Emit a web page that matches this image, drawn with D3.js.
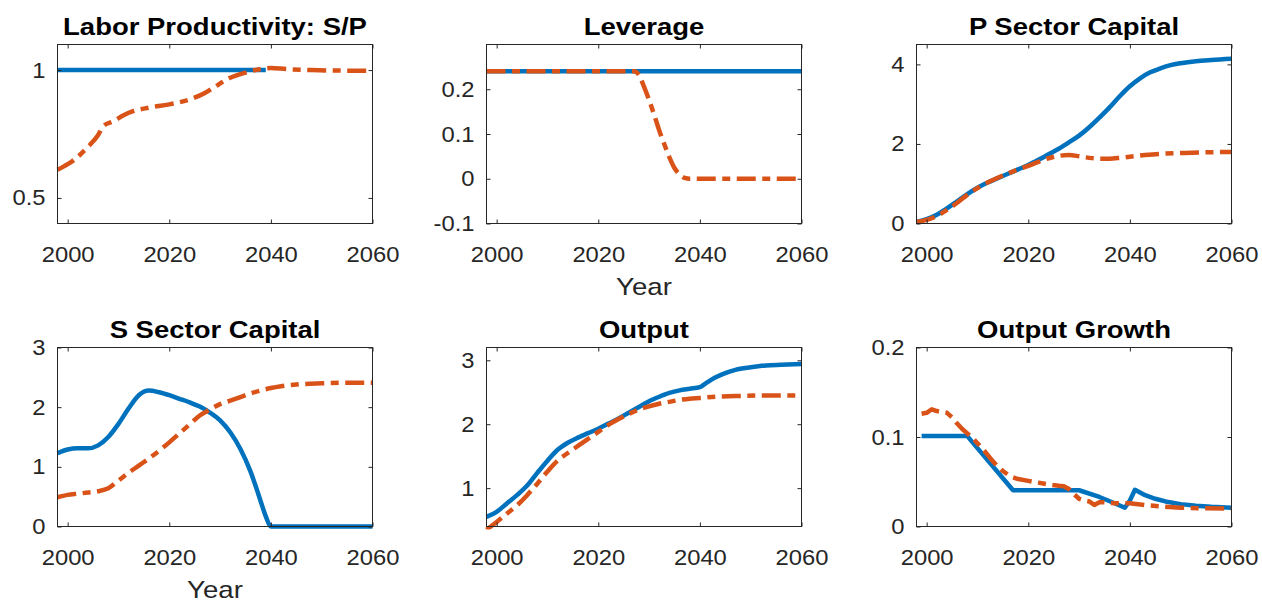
<!DOCTYPE html>
<html>
<head>
<meta charset="utf-8">
<script src="https://cdn.jsdelivr.net/npm/d3@7"></script>
<style>
  html, body { margin: 0; padding: 0; background: #ffffff; }
  svg { display: block; }
  text { font-family: "Liberation Sans", Arial, Helvetica, sans-serif; }
</style>
</head>
<body>
<svg id="fig" width="1262" height="603"></svg>
<script>
// ---- shared x axis (years) ----
const yearDomain = [1998, 2060];
const yearTicks = [2000, 2020, 2040, 2060];
const yearTickLabels = ["2000", "2020", "2040", "2060"];

// ---- panel titles ----
const panelTitles = [
  "Labor Productivity: S/P", "Leverage", "P Sector Capital",
  "S Sector Capital", "Output", "Output Growth"
];

// ---- y axes ----
const yDomains = [[0.4, 1.1], [-0.1, 0.3], [0, 4.5], [0, 3], [0.4, 3.2], [0, 0.2]];
const yTicks = [[0.5, 1], [-0.1, 0, 0.1, 0.2], [0, 2, 4], [0, 1, 2, 3], [1, 2, 3], [0, 0.1, 0.2]];
const yTickLabels = [["0.5", "1"], ["-0.1", "0", "0.1", "0.2"], ["0", "2", "4"], ["0", "1", "2", "3"], ["1", "2", "3"], ["0", "0.1", "0.2"]];

// ---- series: [year, value] ----
// Labor productivity, S relative to P
const laborBase = [[1998, 1], [2039, 1]];
const laborAlt = [[1998, 0.61], [2000, 0.632], [2001, 0.645], [2004, 0.70], [2006, 0.746], [2007, 0.78],
  [2009, 0.80], [2011, 0.823], [2013, 0.84], [2016, 0.853], [2020, 0.866], [2024, 0.885], [2027, 0.91],
  [2029, 0.935], [2032, 0.97], [2035, 0.99], [2037, 1.0], [2040, 1.008], [2043, 1.004], [2048, 1.0], [2060, 0.997]];

// Leverage
const leverageBase = [[1998, 0.24], [2060, 0.24]];
const leverageAlt = [[1998, 0.24], [2027, 0.24], [2028, 0.232], [2029, 0.206], [2030, 0.176], [2031, 0.143],
  [2032, 0.108], [2033, 0.077], [2034, 0.048], [2035, 0.024], [2036, 0.010], [2037, 0.002], [2038, 0], [2060, 0]];

// P sector capital
const pCapitalBase = [[1998, 0.04], [2000, 0.11], [2002, 0.22], [2004, 0.38], [2006, 0.56], [2008, 0.74],
  [2010, 0.90], [2012, 1.03], [2014, 1.14], [2016, 1.25], [2018, 1.36], [2020, 1.47], [2022, 1.60],
  [2024, 1.74], [2026, 1.88], [2028, 2.04], [2030, 2.21], [2032, 2.42], [2034, 2.66], [2036, 2.92],
  [2038, 3.20], [2040, 3.45], [2042, 3.65], [2044, 3.80], [2046, 3.90], [2048, 3.98], [2050, 4.03],
  [2053, 4.08], [2056, 4.11], [2060, 4.14]];
const pCapitalAlt = [[1998, 0.04], [2000, 0.09], [2002, 0.19], [2004, 0.34], [2006, 0.52], [2008, 0.72],
  [2010, 0.89], [2012, 1.03], [2014, 1.15], [2016, 1.26], [2018, 1.36], [2020, 1.45], [2022, 1.55],
  [2024, 1.64], [2026, 1.70], [2028, 1.72], [2030, 1.69], [2032, 1.65], [2034, 1.63], [2036, 1.63],
  [2038, 1.65], [2040, 1.68], [2043, 1.72], [2046, 1.75], [2050, 1.77], [2055, 1.79], [2060, 1.80]];

// S sector capital
const sCapitalBase = [[1998, 1.23], [2000, 1.29], [2002, 1.31], [2004, 1.31], [2006, 1.36], [2008, 1.50],
  [2010, 1.72], [2012, 1.98], [2014, 2.20], [2016, 2.28], [2018, 2.25], [2020, 2.20], [2022, 2.14],
  [2024, 2.08], [2026, 2.01], [2028, 1.91], [2030, 1.78], [2032, 1.58], [2034, 1.30], [2036, 0.92],
  [2037, 0.68], [2038, 0.42], [2039, 0.17], [2040, 0], [2060, 0]];
const sCapitalAlt = [[1998, 0.49], [2000, 0.53], [2002, 0.55], [2004, 0.57], [2006, 0.59], [2008, 0.64],
  [2010, 0.77], [2012, 0.90], [2014, 1.02], [2016, 1.14], [2018, 1.27], [2020, 1.41], [2022, 1.56],
  [2024, 1.71], [2026, 1.86], [2028, 1.96], [2030, 2.05], [2032, 2.11], [2034, 2.17], [2036, 2.23],
  [2038, 2.28], [2040, 2.32], [2042, 2.35], [2045, 2.38], [2050, 2.40], [2055, 2.41], [2060, 2.41]];

// Output
const outputBase = [[1998, 0.55], [2000, 0.63], [2002, 0.76], [2004, 0.89], [2006, 1.04], [2008, 1.24],
  [2010, 1.43], [2012, 1.60], [2014, 1.71], [2016, 1.79], [2018, 1.86], [2020, 1.93], [2022, 2.01],
  [2024, 2.09], [2026, 2.18], [2028, 2.27], [2030, 2.36], [2032, 2.43], [2034, 2.49], [2036, 2.53],
  [2038, 2.555], [2040, 2.58], [2041, 2.63], [2043, 2.73], [2045, 2.80], [2047, 2.85], [2050, 2.89],
  [2053, 2.92], [2056, 2.93], [2060, 2.94]];
const outputAlt = [[1998, 0.35], [2000, 0.47], [2002, 0.60], [2004, 0.73], [2006, 0.89], [2008, 1.07],
  [2010, 1.26], [2012, 1.43], [2014, 1.55], [2016, 1.66], [2018, 1.77], [2020, 1.88], [2022, 1.99],
  [2024, 2.08], [2026, 2.16], [2028, 2.23], [2030, 2.28], [2032, 2.32], [2034, 2.35], [2036, 2.38],
  [2038, 2.40], [2040, 2.41], [2043, 2.43], [2047, 2.44], [2052, 2.45], [2060, 2.45]];

// Output growth
const growthBase = [[1999, 0.101], [2008, 0.101], [2017, 0.0405], [2030, 0.0405], [2034, 0.033],
  [2037, 0.026], [2039, 0.021], [2040, 0.029], [2041, 0.041], [2042, 0.038], [2043, 0.035], [2045, 0.031],
  [2047, 0.028], [2050, 0.025], [2053, 0.0233], [2056, 0.022], [2060, 0.021]];
const growthAlt = [[1999, 0.126], [2000, 0.127], [2001, 0.131], [2002, 0.129], [2004, 0.127], [2005, 0.122],
  [2006, 0.115], [2007, 0.109], [2008, 0.104], [2009, 0.099], [2010, 0.093], [2011, 0.087], [2012, 0.080],
  [2013, 0.073], [2014, 0.067], [2015, 0.062], [2016, 0.058], [2017, 0.055], [2018, 0.053], [2020, 0.051],
  [2022, 0.049], [2024, 0.047], [2026, 0.0455], [2027, 0.045], [2028, 0.042], [2029, 0.036], [2030, 0.031],
  [2031, 0.029], [2032, 0.028], [2033, 0.024], [2034, 0.027], [2035, 0.027], [2037, 0.026], [2040, 0.026],
  [2043, 0.024], [2046, 0.0225], [2050, 0.021], [2055, 0.0203], [2060, 0.020]];

const baseSeries = [laborBase, leverageBase, pCapitalBase, sCapitalBase, outputBase, growthBase];
const altSeries = [laborAlt, leverageAlt, pCapitalAlt, sCapitalAlt, outputAlt, growthAlt];
const smoothPanels = [true, true, true, true, true, false];
const xLabelPanels = [1, 3];

// ---- layout ----
const colLeft = [57.5, 486.5, 916.5];
const rowTop = [44.5, 347.5];
const plotW = 315, plotH = 179;
const tickLen = 4;
const tickStretch = 1.08, titleStretch = 1.17, labelStretch = 1.15;

const blue = "#0072BD", orange = "#D95319", axisColor = "#262626";

const svg = d3.select("#fig");
const defs = svg.append("defs");

panelTitles.forEach((title, i) => {
  const left = colLeft[i % 3], top = rowTop[Math.floor(i / 3)];
  const x = d3.scaleLinear().domain(yearDomain).range([0, plotW]);
  const y = d3.scaleLinear().domain(yDomains[i]).range([plotH, 0]);
  const g = svg.append("g").attr("transform", `translate(${left},${top})`);

  const clipId = "plot-clip-" + i;
  defs.append("clipPath").attr("id", clipId)
    .append("rect").attr("x", -3).attr("y", -3).attr("width", plotW + 6).attr("height", plotH + 6);

  const line = d3.line()
    .x(d => x(d[0]))
    .y(d => y(d[1]))
    .curve(smoothPanels[i] ? d3.curveMonotoneX : d3.curveLinear);

  const lines = g.append("g").attr("clip-path", `url(#${clipId})`);
  lines.append("path").datum(baseSeries[i])
    .attr("d", line).attr("fill", "none")
    .attr("stroke", blue).attr("stroke-width", 4.5)
    .attr("stroke-linejoin", "round");
  lines.append("path").datum(altSeries[i])
    .attr("d", line).attr("fill", "none")
    .attr("stroke", orange).attr("stroke-width", 4.5)
    .attr("stroke-linejoin", "round")
    .attr("stroke-dasharray", "19,6.5,8,6.5");

  // axes: inward ticks on all four sides
  const fmtX = (d) => yearTickLabels[yearTicks.indexOf(d)];
  const fmtY = (d) => yTickLabels[i][yTicks[i].indexOf(d)];

  const axB = g.append("g").attr("transform", `translate(0,${plotH})`)
    .call(d3.axisBottom(x).tickValues(yearTicks).tickFormat(fmtX)
      .tickSizeInner(-tickLen).tickSizeOuter(0).tickPadding(22.5));
  const axT = g.append("g")
    .call(d3.axisTop(x).tickValues(yearTicks).tickFormat("")
      .tickSizeInner(-tickLen).tickSizeOuter(0));
  const axL = g.append("g")
    .call(d3.axisLeft(y).tickValues(yTicks[i]).tickFormat(fmtY)
      .tickSizeInner(-tickLen).tickSizeOuter(0).tickPadding(12 / tickStretch));
  const axR = g.append("g").attr("transform", `translate(${plotW},0)`)
    .call(d3.axisRight(y).tickValues(yTicks[i]).tickFormat("")
      .tickSizeInner(-tickLen).tickSizeOuter(0));

  [axB, axT, axL, axR].forEach(a => {
    a.select(".domain").remove();
    a.selectAll(".tick line").attr("stroke", axisColor).attr("stroke-width", 1);
    a.selectAll(".tick text")
      .attr("fill", axisColor)
      .attr("transform", `scale(${tickStretch},1)`)
      .style("font-family", '"Liberation Sans", Arial, Helvetica, sans-serif')
      .style("font-size", "22px");
  });

  g.append("rect")
    .attr("x", 0).attr("y", 0).attr("width", plotW).attr("height", plotH)
    .attr("fill", "none").attr("stroke", axisColor).attr("stroke-width", 1);

  g.append("text")
    .attr("transform", `translate(${plotW / 2},-10) scale(${titleStretch},1)`)
    .attr("text-anchor", "middle")
    .attr("fill", "#000")
    .style("font-size", "23.5px")
    .style("font-weight", "bold")
    .text(title);

  if (xLabelPanels.includes(i)) {
    g.append("text")
      .attr("transform", `translate(${plotW / 2},${plotH + 71}) scale(${labelStretch},1)`)
      .attr("text-anchor", "middle")
      .attr("fill", axisColor)
      .style("font-size", "24px")
      .text("Year");
  }
});
</script>
</body>
</html>
